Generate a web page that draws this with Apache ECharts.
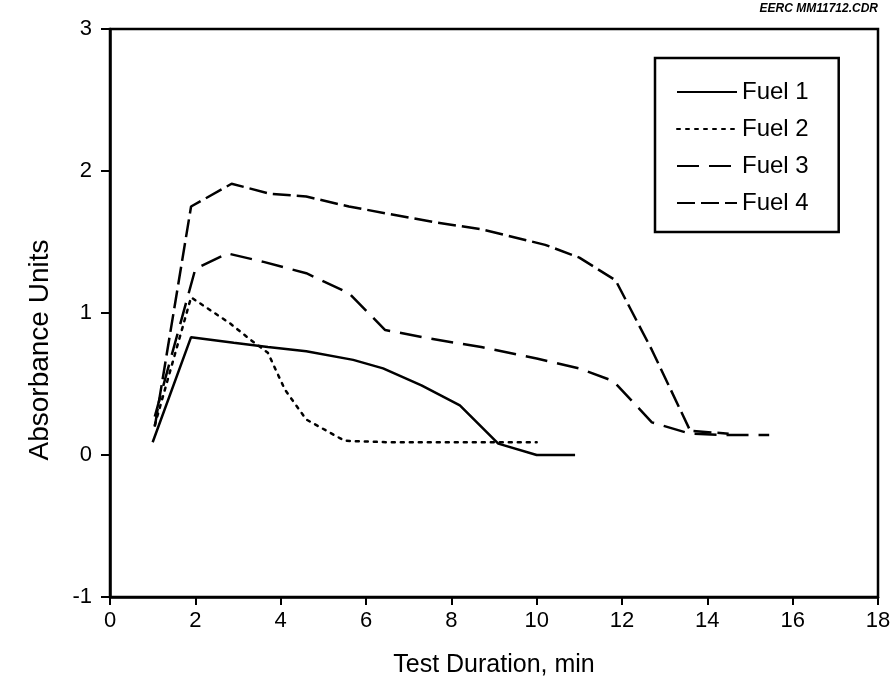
<!DOCTYPE html>
<html>
<head>
<meta charset="utf-8">
<script src="https://cdn.jsdelivr.net/npm/echarts@6/dist/echarts.min.js"></script>
<style>html,body{margin:0;padding:0;background:#fff}#c{width:896px;height:688px}</style>
</head>
<body>
<div id="c"></div>
<script>
const seriesNames = ['Fuel 1', 'Fuel 2', 'Fuel 3', 'Fuel 4'];
const fuel1 = [[1.0,0.09],[1.9,0.83],[2.9,0.79],[3.7,0.76],[4.6,0.73],[5.7,0.67],[6.4,0.61],[7.3,0.49],[8.2,0.35],[9.1,0.08],[10.0,0.0],[10.9,0.0]];
const fuel2 = [[1.05,0.21],[1.9,1.11],[2.8,0.93],[3.3,0.81],[3.7,0.72],[4.1,0.46],[4.6,0.25],[5.5,0.10],[6.5,0.09],[8.0,0.09],[10.0,0.09]];
const fuel3 = [[1.05,0.27],[2.0,1.31],[2.75,1.42],[3.6,1.36],[4.6,1.28],[5.6,1.14],[6.45,0.88],[7.5,0.82],[8.7,0.76],[10.0,0.68],[11.0,0.61],[11.8,0.52],[12.7,0.23],[13.6,0.15],[14.5,0.14],[15.45,0.14]];
const fuel4 = [[1.05,0.20],[1.9,1.75],[2.85,1.91],[3.75,1.84],[4.6,1.82],[5.6,1.75],[6.5,1.70],[7.6,1.64],[8.7,1.59],[10.2,1.48],[11.0,1.39],[11.85,1.23],[12.7,0.74],[13.6,0.17],[14.5,0.15]];
const xTicks = {min: 0, max: 18, interval: 2};
const yTicks = {min: -1, max: 3, interval: 1};
const xTitle = 'Test Duration, min';
const yTitle = 'Absorbance Units';
const cornerNote = 'EERC MM11712.CDR';

const font = 'Liberation Sans, Arial, Helvetica, sans-serif';
const chart = echarts.init(document.getElementById('c'), null, {renderer: 'canvas'});
const dashes = ['solid', [3, 6], [22, 10], [18, 6]];
const datas = [fuel1, fuel2, fuel3, fuel4];
chart.setOption({
  animation: false,
  backgroundColor: '#fff',
  graphic: [{
    type: 'text', right: 18, top: 3,
    style: {text: cornerNote, font: 'italic bold 12px ' + font, fill: '#000'}
  }, {
    type: 'text', x: 40, y: 350, rotation: Math.PI / 2,
    style: {text: yTitle, font: '28px ' + font, fill: '#000', align: 'center', verticalAlign: 'middle'}
  }],
  grid: {left: 110, right: 18, top: 29, bottom: 91, show: true, borderColor: '#000', borderWidth: 2.5, backgroundColor: 'transparent'},
  legend: {
    orient: 'vertical', left: 655, top: 58,
    padding: [22, 30, 17, 21],
    itemGap: 13, itemWidth: 60, itemHeight: 22, itemTextGap: 10,
    borderColor: '#000', borderWidth: 2.5,
    itemStyle: {opacity: 0},
    textStyle: {fontSize: 24, fontFamily: font, color: '#000'},
    data: seriesNames
  },
  xAxis: {
    type: 'value', min: xTicks.min, max: xTicks.max, interval: xTicks.interval,
    name: xTitle, nameLocation: 'middle', nameGap: 56,
    nameTextStyle: {fontSize: 25, fontFamily: font, color: '#000'},
    axisLine: {show: true, onZero: false, lineStyle: {color: '#000', width: 2.5}},
    axisTick: {show: true, inside: false, length: 8, lineStyle: {color: '#000', width: 2}},
    axisLabel: {fontSize: 22, fontFamily: font, color: '#000', margin: 13},
    splitLine: {show: false}
  },
  yAxis: {
    type: 'value', min: yTicks.min, max: yTicks.max, interval: yTicks.interval,
    axisLine: {show: true, onZero: false, lineStyle: {color: '#000', width: 2.5}},
    axisTick: {show: true, inside: false, length: 9, lineStyle: {color: '#000', width: 2}},
    axisLabel: {fontSize: 22, fontFamily: font, color: '#000', margin: 18},
    splitLine: {show: false}
  },
  series: seriesNames.map((n, i) => ({
    name: n, type: 'line', data: datas[i], symbol: 'none', showSymbol: false,
    color: '#000',
    lineStyle: {color: '#000', width: 2.5, type: dashes[i], cap: i === 1 ? 'round' : 'butt'}
  }))
});
</script>
</body>
</html>
